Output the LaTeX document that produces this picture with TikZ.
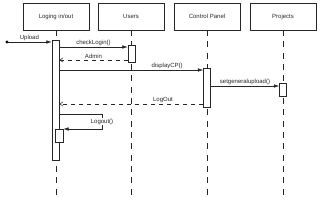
\documentclass[tikz,border=0pt]{standalone}
\usepackage{fontspec}
\setmainfont{Liberation Sans}
\usetikzlibrary{arrows.meta}

\tikzset{
  objbox/.style={draw, minimum width=49.5pt, minimum height=20pt, inner sep=1pt},
  lifeline/.style={dash pattern=on 4.5pt off 4pt},
  act/.style={draw, fill=white, minimum width=5.25pt, inner sep=0pt},
  msg/.style={-{Latex[length=4pt,width=2.6pt]}},
  reply/.style={dashed, -{Straight Barb[length=2.5pt,width=3.2pt]}},
  lbl/.style={above, inner sep=1pt}
}

\begin{document}
\begin{tikzpicture}[x=0.75pt,y=-0.75pt, font=\fontsize{4.5}{5.5}\selectfont, draw=black!85, text=black!85]
\useasboundingbox (0,0) rectangle (320,206);

% ===== Objects and lifelines =====
\node[objbox] (log) at (56,16.5) {Loging in/out};
\node[objbox] (usr) at (131,16.5) {Users};
\node[objbox] (cp) at (207,16.5) {Control Panel};
\node[objbox] (proj) at (283,16.5) {Projects};

\coordinate (bot) at (0,196);
\foreach \n in {log,usr,cp,proj} {
  \draw[lifeline] (\n.south) -- (\n.south |- bot);
}

% ===== Activations =====
\node[act, minimum height=90pt] (alog) at (55.5,100) {};
\node[act, minimum height=12.75pt] (ausr) at (131.5,53.5) {};
\node[act, minimum height=29.25pt] (acp) at (207,87.5) {};
\node[act, minimum height=9.75pt] (aproj) at (283,89.5) {};
\node[act, minimum width=6pt, minimum height=9.75pt] (alog2) at (59,135.5) {};

% ===== Messages =====
\fill (7,42) circle (1.6) coordinate (start);
\draw[msg] (start) -- node[lbl] {Upload} (alog.west |- start);
\draw[msg] (alog.east |- 0,47) -- node[lbl] {checkLogin()} (ausr.west |- 0,47);
\draw[reply] (ausr.west |- 0,60) -- node[lbl] {Admin} (alog.east |- 0,60);
\draw[msg] (alog.east |- 0,70) -- node[lbl, pos=0.75] {displayCP()} (acp.west |- 0,70);
\draw[msg] (acp.east |- 0,86) -- node[lbl] {setgeneralupload()} (aproj.west |- 0,86);
\draw[reply] (acp.west |- 0,104) -- node[lbl, pos=0.28] {LogOut} (alog.east |- 0,104);
\draw[msg] (alog.east |- 0,114) -- (102,114) -- node[fill=white, inner sep=0.5pt] {Logout()} (102,129) -- (alog2.east |- 0,129);

\end{tikzpicture}
\end{document}
